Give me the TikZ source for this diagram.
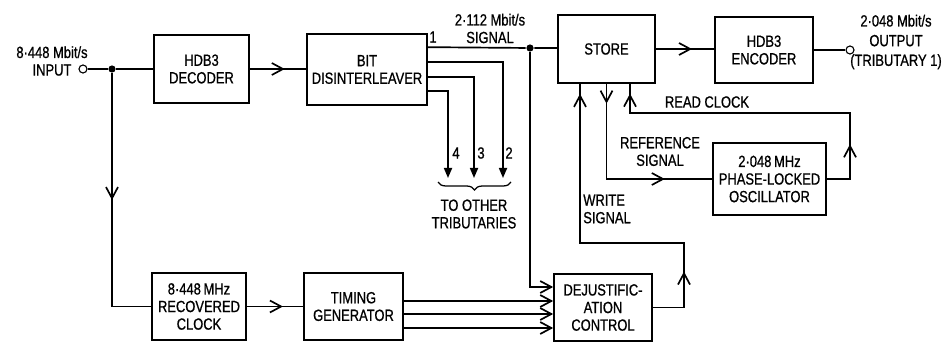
\documentclass[tikz,border=0pt]{standalone}
\usepackage{fontspec}
\setmainfont{Liberation Sans}[FakeStretch=0.8, FakeBold=0.8]
\usepackage{tikz}
\usetikzlibrary{positioning, calc, arrows.meta, decorations.markings, decorations.pathreplacing}

\begin{document}
\begin{tikzpicture}[x=0.025cm, y=-0.025cm,
    font=\fontsize{11.5}{12.5}\selectfont,
    line width=1.2pt,
    >={Straight Barb[length=0.28cm, width=0.3cm]},
    block/.style={draw, align=center, inner sep=0pt},
    dotnode/.style={circle, fill, inner sep=0pt, minimum size=0.18cm},
    portnode/.style={circle, draw, fill=white, line width=0.8pt, inner sep=0pt, minimum size=0.2cm},
    chev/.style={postaction={decorate}, decoration={markings, mark=at position #1 with {\arrow{>}}}},
    chevs/.style 2 args={postaction={decorate}, decoration={markings, mark=at position #1 with {\arrow{>}}, mark=at position #2 with {\arrow{>}}}},
    trib/.style={-{Triangle[length=0.25cm, width=0.2cm]}}
  ]
        % Define unit (one pixel of the drawing)
        \def\px{0.025cm}
        \useasboundingbox (0,0) rectangle (949,342);

        % Draw the blocks
        \node[block, minimum width=95*\px, minimum height=68*\px] (dec) at (201.5,69) {HDB3\\DECODER};
        \node[block, minimum width=120*\px, minimum height=71*\px] (bit) at (367,69.5) {BIT\\DISINTERLEAVER};
        \node[block, minimum width=97*\px, minimum height=68*\px] (store) at (606.5,49) {STORE};
        \node[block, minimum width=98*\px, minimum height=66*\px] (enc) at (764,50) {HDB3\\ENCODER};
        \node[block, minimum width=113*\px, minimum height=72*\px] (pll) at (769.5,179) {2·048\,MHz\\PHASE-LOCKED\\OSCILLATOR};
        \node[block, minimum width=94*\px, minimum height=67*\px] (clk) at (199,306.5) {8·448\,MHz\\RECOVERED\\CLOCK};
        \node[block, minimum width=99*\px, minimum height=67*\px] (tim) at (353.5,306.5) {TIMING\\GENERATOR};
        \node[block, minimum width=98*\px, minimum height=67*\px] (dej) at (603,307.5) {DEJUSTIFIC-\\ATION\\CONTROL};

        % Ports and junctions
        \node[portnode] (in) at (83,69) {};
        \node[dotnode] (indot) at (112,69) {};
        \node[dotnode] (sigdot) at (530,48) {};
        \node[portnode] (out) at (850,50) {};

        % Labels
        \node[align=center] (inlab) at (52,61) {8·448 Mbit/s\\INPUT};
        \node[align=center] (siglab) at (490,28.5) {2·112 Mbit/s\\SIGNAL};
        \node (one) at (433,37) {1};
        \node[align=center, font=\fontsize{11.5}{14}\selectfont] (outlab) at (896,42) {2·048 Mbit/s\\OUTPUT\\(TRIBUTARY 1)};
        \node (readlab) at (707,102) {READ CLOCK};
        \node[align=center] (reflab) at (660,151.5) {REFERENCE\\SIGNAL};
        \node[align=left] (wrlab) at (607,209) {WRITE\\SIGNAL};
        \node[align=center] (triblab) at (474,214) {TO OTHER\\TRIBUTARIES};
        \node (l2) at (509,153) {2};
        \node (l3) at (481,153) {3};
        \node (l4) at (456,153) {4};

        % Input side
        \draw (in) -- (indot) -- (dec.west);
        \draw[chev=0.465] (indot) |- (clk.west);
        \draw[chev=0.62] (dec.east) -- (bit.west |- dec.east);
        \draw[chev=0.64] (clk.east) -- (tim.west |- clk.east);

        % Disinterleaver outputs
        \draw ($(bit.north east)+(0,14)$) -- (sigdot) -- (sigdot -| store.west);
        \draw[->] (sigdot) |- ($(dej.west)+(0,-20.5)$);
        \coordinate (t2) at (503,178);
        \coordinate (t3) at (474,178);
        \coordinate (t4) at (448,178);
        \foreach \dy/\t in {29/t2, 44/t3, 58/t4}
            \draw[trib] ($(bit.north east)+(0,\dy)$) -| (\t);
        \coordinate (bl) at (438,182);
        \coordinate (br) at (511,182);
        \draw[line width=0.9pt, decorate, decoration={brace, mirror, amplitude=0.2cm}] (bl) -- (br);

        % Timing to dejustification
        \foreach \dy in {-5.5, 7.5, 21.5}
            \draw[->] ($(tim.east)+(0,\dy)$) -- ($(tim.east -| dej.west)+(0,\dy)$);

        % Store, encoder and output
        \draw[chev=0.62] (store.east) -- (store.east -| enc.west);
        \draw (enc.east) -- (out);

        % Write signal
        \coordinate (wrturn) at (684,243);
        \draw[chevs={0.187}{0.972}] (dej.east) -| (wrturn) -| ($(store.south)+(-26.5,0)$);

        % Reference signal
        \draw[chevs={0.0985}{0.764}] (store.south) |- (pll.west);

        % Read clock
        \coordinate (rdturn) at (850,113);
        \draw[chevs={0.171}{0.971}] (pll.east) -| (rdturn) -| ($(store.south)+(23.5,0)$);

    \end{tikzpicture}
\end{document}
